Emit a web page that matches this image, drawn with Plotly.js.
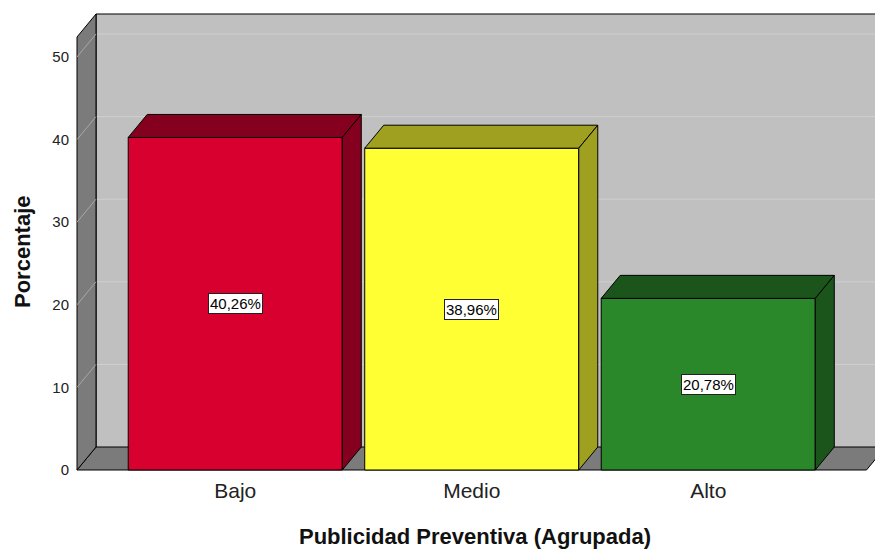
<!DOCTYPE html>
<html>
<head>
<meta charset="utf-8">
<script src="https://cdn.plot.ly/plotly-3.0.1.min.js"></script>
<style>html,body{margin:0;padding:0;background:#fff;}#chart{width:875px;height:549px;}</style>
</head>
<body>
<div id="chart"></div>
<script>
// ---- data ----
const categories = ['Bajo', 'Medio', 'Alto'];
const values = [40.26, 38.96, 20.78];
const yTickValues = [0, 10, 20, 30, 40, 50];
const frontColors = ['#d7002f', '#ffff33', '#2a872a'];
const shadeColors = ['#85001e', '#a0a020', '#1c551c'];
const xTitle = 'Publicidad Preventiva (Agrupada)';
const yTitle = 'Porcentaje';

// ---- geometry (style constants) ----
const W = 875, H = 549;
const mL = 75, mR = 0, mT = 12, mB = 77;
const plotW = W - mL - mR, plotH = H - mT - mB;
const pxPerCat = 236.5;       // pixels per category
const pxPerUnit = 8.26;       // pixels per y unit
const padCat = 40;            // padding before first / after last category band
const edgePx = 2;             // gap between plot edge and wall front edge
const depthX = 19, depthY = 23; // 3D depth in px
const barWidth = 0.905;

const wallX0 = -0.5 - padCat / pxPerCat;
const wallX1 = (categories.length - 0.5) + padCat / pxPerCat;
const xr0 = wallX0 - edgePx / pxPerCat;
const xr1 = xr0 + plotW / pxPerCat;
const yr0 = -edgePx / pxPerUnit;
const yr1 = yr0 + plotH / pxPerUnit;
const dX = depthX / pxPerCat, dY = depthY / pxPerUnit;
const backTop = yr1 - edgePx / pxPerUnit;
const frontTop = backTop - dY;

const wallFill = '#7b7b7b', backFill = '#c0c0c0';
const shapes = [];
// back wall
shapes.push({type: 'rect', layer: 'below', xref: 'x', yref: 'y', x0: wallX0 + dX, x1: xr1 + 1, y0: dY, y1: backTop,
  fillcolor: backFill, line: {width: 0}});
// back wall gridlines
yTickValues.filter(t => t > 0).forEach(t => {
  shapes.push({type: 'line', layer: 'below', xref: 'x', yref: 'y', x0: wallX0 + dX, x1: xr1 + 1, y0: t + dY, y1: t + dY,
    line: {color: '#cfcfcf', width: 1}});
});
// back wall top & left edges
shapes.push({type: 'line', layer: 'below', xref: 'x', yref: 'y', x0: wallX0 + dX, x1: xr1 + 1, y0: backTop, y1: backTop, line: {color: '#000', width: 1.2}});
shapes.push({type: 'line', layer: 'below', xref: 'x', yref: 'y', x0: wallX0 + dX, x1: wallX0 + dX, y0: dY, y1: backTop, line: {color: '#000', width: 1.2}});
// floor
shapes.push({type: 'path', layer: 'below', xref: 'x', yref: 'y',
  path: `M ${wallX0},0 L ${wallX1},0 L ${wallX1 + dX},${dY} L ${wallX0 + dX},${dY} Z`,
  fillcolor: wallFill, line: {color: '#000', width: 1}});
// left wall
shapes.push({type: 'path', layer: 'below', xref: 'x', yref: 'y',
  path: `M ${wallX0},0 L ${wallX0},${frontTop} L ${wallX0 + dX},${backTop} L ${wallX0 + dX},${dY} Z`,
  fillcolor: wallFill, line: {color: '#000', width: 1}});
// left wall gridlines
yTickValues.filter(t => t > 0).forEach(t => {
  shapes.push({type: 'line', layer: 'below', xref: 'x', yref: 'y', x0: wallX0, x1: wallX0 + dX, y0: t, y1: t + dY,
    line: {color: '#a8a8a8', width: 1}});
});
// bar top & side faces
values.forEach((v, i) => {
  const l = i - barWidth / 2, r = i + barWidth / 2;
  shapes.push({type: 'path', layer: 'above', xref: 'x', yref: 'y',
    path: `M ${l},${v} L ${l + dX},${v + dY} L ${r + dX},${v + dY} L ${r},${v} Z`,
    fillcolor: shadeColors[i], line: {color: '#000', width: 1}});
  shapes.push({type: 'path', layer: 'above', xref: 'x', yref: 'y',
    path: `M ${r},0 L ${r},${v} L ${r + dX},${v + dY} L ${r + dX},${dY} Z`,
    fillcolor: shadeColors[i], line: {color: '#000', width: 1}});
});

const font = 'Liberation Sans, Arial, sans-serif';
const fmt = v => v.toFixed(2).replace('.', ',') + '%';
const annotations = values.map((v, i) => ({
  x: i, y: v / 2, xref: 'x', yref: 'y', text: fmt(v), showarrow: false,
  bgcolor: '#ffffff', bordercolor: '#222', borderwidth: 1, borderpad: 1,
  font: {size: 15, color: '#000', family: font}
}));
// y axis title placed as in the reference (slightly below the plot centre)
annotations.push({
  xref: 'paper', yref: 'paper', x: -22 / plotW * 1 - (mL - 22) / plotW, y: (H - mB - 252) / plotH,
  xanchor: 'center', yanchor: 'middle', text: '<b>' + yTitle + '</b>', textangle: -90, showarrow: false,
  font: {size: 22, color: '#111', family: font}
});
annotations[annotations.length - 1].x = (22 - mL) / plotW;

const trace = {
  type: 'bar', x: categories.map((c, i) => i), y: values, width: barWidth,
  marker: {color: frontColors, line: {color: '#000', width: 1}},
  hoverinfo: 'skip', showlegend: false
};

const layout = {
  width: W, height: H, margin: {l: mL, r: mR, t: mT, b: mB},
  paper_bgcolor: '#fff', plot_bgcolor: '#fff',
  font: {family: font, color: '#111'},
  showlegend: false,
  xaxis: {range: [xr0, xr1], tickvals: categories.map((c, i) => i), ticktext: categories,
    showgrid: false, zeroline: false, showline: false, ticks: '', ticklabelstandoff: 4,
    tickfont: {size: 21, color: '#222'},
    title: {text: '<b>' + xTitle + '</b>', font: {size: 22, color: '#111'}, standoff: 28}, fixedrange: true},
  yaxis: {range: [yr0, yr1], tickvals: yTickValues, showgrid: false, zeroline: false, showline: false,
    ticks: '', ticklabelstandoff: 5, tickfont: {size: 15, color: '#222'}, fixedrange: true},
  shapes: shapes, annotations: annotations
};

Plotly.newPlot('chart', [trace], layout, {staticPlot: true, displayModeBar: false});
</script>
</body>
</html>
